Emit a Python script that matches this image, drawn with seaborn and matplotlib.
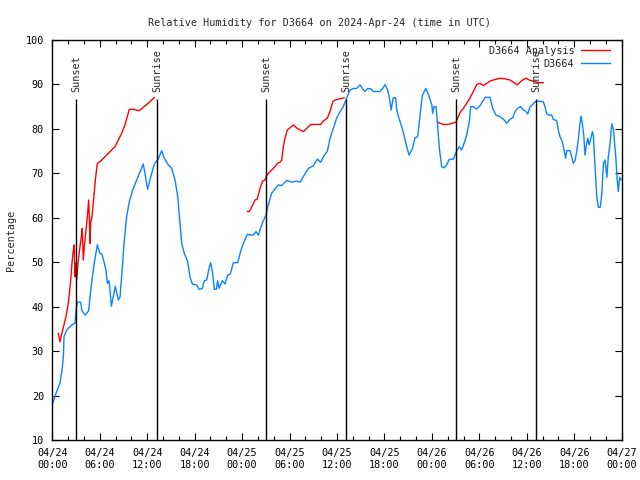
import pandas as pd
import matplotlib
matplotlib.use('Agg')
import matplotlib.pyplot as plt
import matplotlib.dates as mdates
from matplotlib.lines import Line2D
import seaborn as sns

# Data (hours since 2024-04-24 00:00 UTC, RH %)
START = pd.Timestamp('2024-04-24 00:00')
END = pd.Timestamp('2024-04-27 00:00')

obs_hours = [0.05, 0.55, 0.97, 1.23, 1.4, 1.48, 1.82, 2.45, 2.87, 3.0, 3.16, 3.59, 3.75, 4.17, 4.6,
             4.77, 5.02, 5.27, 5.69, 6.03, 6.25, 6.54, 6.79, 6.96, 7.17, 7.3, 7.46, 7.63, 7.97, 8.14,
             8.35, 8.56, 8.77, 9.07, 9.4, 9.74, 10.16, 10.58, 11.0, 11.5, 11.72, 12.05, 12.48, 12.9,
             13.33, 13.83, 14.16, 14.59, 15.1, 15.52, 15.86, 16.11, 16.36, 16.69, 17.12, 17.41, 17.7,
             18.26, 18.55, 18.97, 19.22, 19.52, 19.82, 20.03, 20.28, 20.49, 20.74, 20.91, 21.08, 21.5,
             21.84, 22.18, 22.51, 22.89, 23.45, 23.74, 24.15, 24.66, 25.42, 25.76, 26.05, 26.6, 27.02,
             27.31, 27.74, 28.16, 28.58, 29.01, 29.64, 30.27, 30.9, 31.32, 31.74, 32.37, 33.0, 33.51,
             33.94, 34.36, 34.77, 35.12, 35.53, 35.96, 36.3, 36.8, 37.23, 37.65, 38.06, 38.49, 38.91,
             39.2, 39.54, 39.88, 40.3, 40.59, 41.44, 41.86, 42.07, 42.41, 42.7, 42.83, 43.12, 43.42,
             43.55, 43.84, 44.18, 44.51, 44.82, 45.11, 45.52, 45.87, 46.2, 46.5, 46.79, 47.22, 47.55,
             47.98, 48.1, 48.27, 48.52, 48.69, 48.94, 49.24, 49.53, 49.87, 50.2, 50.71, 51.05, 51.47,
             51.77, 52.06, 52.4, 52.73, 52.91, 53.24, 53.58, 54.0, 54.43, 54.72, 55.35, 55.69, 56.11,
             56.61, 57.03, 57.46, 57.88, 58.22, 58.51, 58.8, 59.23, 59.56, 59.85, 60.12, 60.41, 60.7,
             61.04, 61.46, 62.09, 62.3, 62.52, 62.81, 63.15, 63.35, 63.78, 63.98, 64.2, 64.49, 64.74,
             64.92, 65.05, 65.46, 65.68, 65.88, 66.1, 66.31, 66.51, 66.73, 66.86, 67.02, 67.2, 67.36,
             67.53, 67.71, 67.88, 68.05, 68.3, 68.43, 68.56, 68.73, 68.86, 69.06, 69.28, 69.49, 69.69,
             69.9, 70.12, 70.31, 70.53, 70.74, 70.94, 71.07, 71.25, 71.41, 71.57, 71.75, 71.92]
obs_rh = [18.25, 20.9, 22.75, 25.75, 28.75, 33.25, 34.75, 35.9, 36.25, 39.25, 41.0, 41.0, 39.1, 38.1, 39.1,
          42.25, 46.0, 49.4, 53.9, 52.0, 51.85, 50.1, 48.25, 45.25, 45.85, 43.75, 40.1, 41.5, 44.6, 43.1,
          41.5, 42.1, 46.75, 54.25, 60.25, 63.6, 66.25, 68.1, 70.0, 72.1, 70.0, 66.4, 69.4, 72.1,
          73.0, 75.1, 73.4, 72.1, 71.1, 68.5, 64.75, 59.5, 54.25, 52.0, 50.1, 46.75, 45.1,
          44.9, 43.9, 44.1, 45.85, 46.0, 48.6, 49.9, 47.5, 43.9, 43.9, 45.85, 44.1, 45.85,
          45.1, 47.1, 47.35, 49.9, 49.9, 52.0, 54.25, 56.25, 56.1, 56.9, 56.1, 59.0, 60.6,
          62.9, 65.5, 66.5, 67.4, 67.25, 68.4, 68.0, 68.25, 68.0, 69.25, 71.1, 71.7, 73.2,
          72.5, 74.0, 74.9, 77.9, 80.1, 82.4, 83.6, 85.0, 87.0, 88.75, 89.1, 89.1, 89.9,
          89.1, 88.4, 89.1, 89.0, 88.4, 88.4, 89.3, 90.0, 88.75, 86.25, 84.25, 87.0, 87.0,
          84.25, 82.4, 80.5, 78.25, 76.0, 74.1, 75.5, 78.0, 78.25, 83.1, 87.5, 89.1, 87.8,
          85.5, 83.5, 85.0, 85.0, 81.6, 75.6, 71.5, 71.25, 71.9, 73.15, 73.2, 74.75, 76.0,
          75.25, 76.75, 78.6, 81.6, 85.0, 85.0, 84.5, 85.0, 86.25, 87.1, 87.1, 84.6, 83.1,
          82.75, 82.2, 81.25, 82.2, 82.5, 83.9, 84.6, 85.0, 84.25, 84.0, 83.35, 85.0, 85.4,
          86.1, 86.25, 86.1, 85.0, 83.35, 83.1, 83.1, 82.15, 81.85, 79.75, 78.25, 77.1, 74.9,
          73.4, 75.1, 75.1, 73.75, 72.25, 72.85, 74.9, 77.5, 81.25, 82.9, 81.25, 78.6, 74.1,
          76.4, 77.9, 76.4, 77.5, 79.4, 78.25, 73.75, 68.5, 64.4, 62.35, 62.35, 65.5, 72.25,
          73.0, 69.1, 73.75, 76.75, 81.1, 80.1, 77.5, 73.75, 69.1, 65.9, 69.1, 68.5]

# analysis runs, three separate pieces
ana1_hours = [0.76, 0.97, 1.31, 1.73, 2.02, 2.33, 2.49, 2.66, 2.78, 2.87, 3.0, 3.08, 3.29, 3.5, 3.72,
              3.79, 3.92, 4.05, 4.26, 4.43, 4.6, 4.68, 4.77, 4.85, 5.02, 5.18, 5.44, 5.69, 6.03, 6.66,
              7.3, 7.93, 8.35, 8.77, 9.19, 9.48, 9.74, 10.24, 11.0, 11.5, 12.35, 12.9]
ana1_rh = [34.0, 32.1, 34.75, 37.75, 40.75, 46.0, 49.75, 52.75, 53.9, 46.75, 49.75, 46.0, 50.5, 53.5, 56.5,
           57.6, 50.5, 53.5, 57.25, 60.25, 64.0, 60.25, 54.25, 58.75, 60.25, 63.25, 68.5, 72.25, 72.6, 73.75,
           74.9, 76.0, 77.5, 79.0, 80.9, 82.75, 84.4, 84.4, 84.1, 84.85, 86.1, 87.1]
ana2_hours = [24.66, 24.91, 25.34, 25.63, 25.92, 26.26, 26.6, 26.9, 27.11, 27.44, 27.74, 28.16, 28.45,
              28.79, 29.01, 29.21, 29.43, 29.72, 30.06, 30.48, 30.98, 31.74, 32.17, 32.68, 33.94, 34.27,
              34.77, 35.12, 35.46, 35.75, 36.29, 36.92]
ana2_rh = [61.4, 61.4, 62.9, 64.0, 64.2, 66.6, 68.25, 68.5, 69.5, 70.2, 70.75, 71.5, 72.25,
           72.5, 73.0, 76.0, 77.9, 79.75, 80.25, 80.9, 80.1, 79.4, 80.1, 81.0, 81.0, 81.75,
           82.4, 83.9, 86.1, 86.5, 86.75, 87.0]
ana3_hours = [48.69, 49.03, 49.45, 50.08, 50.51, 51.05, 51.34, 51.64, 51.97, 52.4, 52.82, 53.24, 53.67,
              54.08, 54.5, 54.93, 55.35, 55.77, 56.61, 57.25, 57.88, 58.3, 58.8, 59.14, 59.48, 59.9,
              60.32, 61.0, 61.6, 62.09]
ana3_rh = [81.6, 81.25, 81.0, 81.0, 81.25, 81.5, 82.75, 83.9, 84.6, 85.75, 87.0, 88.4, 90.0,
           90.25, 89.75, 90.25, 90.75, 91.0, 91.4, 91.25, 91.0, 90.5, 89.9, 90.5, 91.0, 91.4,
           91.0, 90.6, 90.4, 90.4]

sun_events = ['Sunset', 'Sunrise', 'Sunset', 'Sunrise', 'Sunset', 'Sunrise']
sun_times = ['2024-04-24 03:02', '2024-04-24 13:17', '2024-04-25 03:04',
             '2024-04-25 13:12', '2024-04-26 03:05', '2024-04-26 13:13']

RED = '#ff0000'
BLUE = '#0a84ff'
FS = 7.3

obs = pd.DataFrame({'time': START + pd.to_timedelta(obs_hours, unit='h'), 'rh': obs_rh})
ana = pd.concat([
    pd.DataFrame({'time': START + pd.to_timedelta(h, unit='h'), 'rh': v, 'seg': i})
    for i, (h, v) in enumerate([(ana1_hours, ana1_rh), (ana2_hours, ana2_rh), (ana3_hours, ana3_rh)])
], ignore_index=True)

sns.set_style('ticks')
plt.rcParams['font.family'] = ['DejaVu Sans Mono']
plt.rcParams['font.size'] = FS

fig = plt.figure(figsize=(6.4, 4.8), dpi=100)
ax = fig.add_axes([52.3 / 640, 40 / 480, 569.4 / 640, 400 / 480])

sns.lineplot(data=ana, x='time', y='rh', units='seg', estimator=None, color=RED,
             linewidth=1.0, ax=ax, legend=False)
sns.lineplot(data=obs, x='time', y='rh', color=BLUE, linewidth=1.0, ax=ax, legend=False)

for name, t in zip(sun_events, sun_times):
    t = pd.Timestamp(t)
    ax.vlines(t, 10, 86.7, color='black', linewidth=1.0)
    ax.text(t, 88.3, name, rotation=90, ha='center', va='bottom', fontsize=FS)

ax.set_xlim(START, END)
ax.set_ylim(10, 100)
ax.set_yticks(range(10, 101, 10))
ax.xaxis.set_major_locator(mdates.HourLocator(byhour=[0, 6, 12, 18]))
ax.xaxis.set_minor_locator(mdates.HourLocator(byhour=range(0, 24, 2)))
ax.xaxis.set_major_formatter(mdates.DateFormatter('%m/%d\n%H:%M'))
ax.tick_params(which='both', direction='in', top=True, right=True, colors='black', labelsize=FS)
ax.tick_params(which='major', length=5, width=0.8, pad=6)
ax.tick_params(which='minor', length=3, width=0.8)
for s in ax.spines.values():
    s.set_linewidth(1.0)
    s.set_color('black')

ax.set_xlabel('')
ax.set_ylabel('Percentage', fontsize=FS, labelpad=7)
fig.suptitle('Relative Humidity for D3664 on 2024-Apr-24 (time in UTC)', y=0.962, fontsize=FS)

handles = [Line2D([], [], color=RED, linewidth=1.0), Line2D([], [], color=BLUE, linewidth=1.0)]
ax.legend(handles, ['D3664 Analysis', 'D3664'], loc='upper right', bbox_to_anchor=(0.979, 0.985),
          frameon=False, markerfirst=False, borderaxespad=0, borderpad=0, handlelength=2.8,
          handletextpad=0.7, labelspacing=0.3, fontsize=FS)

fig.savefig('out.png', dpi=100)
